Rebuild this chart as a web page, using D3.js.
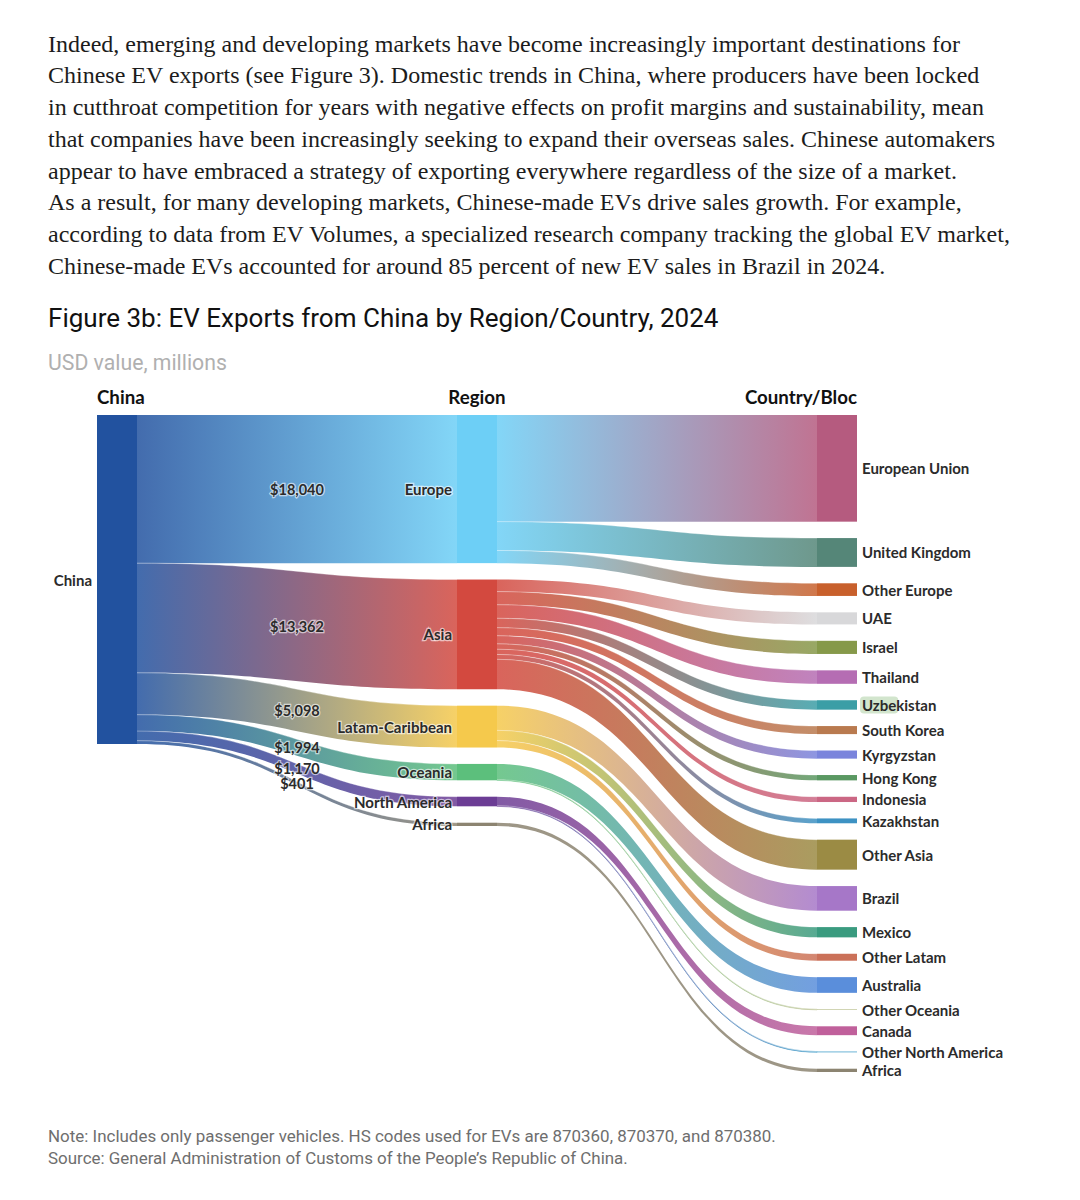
<!DOCTYPE html>
<html lang="en">
<head>
<meta charset="UTF-8">
<title>Figure 3b: EV Exports from China by Region/Country, 2024</title>
<script src="https://cdn.jsdelivr.net/npm/d3@7"></script>
<style>
  body { margin: 0; background: #fff; }
</style>
</head>
<body>
<div id="chart"></div>
<script>

// ---- data ----
const bodyLines = [
    "Indeed, emerging and developing markets have become increasingly important destinations for",
    "Chinese EV exports (see Figure 3). Domestic trends in China, where producers have been locked",
    "in cutthroat competition for years with negative effects on profit margins and sustainability, mean",
    "that companies have been increasingly seeking to expand their overseas sales. Chinese automakers",
    "appear to have embraced a strategy of exporting everywhere regardless of the size of a market.",
    "As a result, for many developing markets, Chinese-made EVs drive sales growth. For example,",
    "according to data from EV Volumes, a specialized research company tracking the global EV market,",
    "Chinese-made EVs accounted for around 85 percent of new EV sales in Brazil in 2024."
];

const columnTitles = ["China", "Region", "Country/Bloc"];

const sourceName = "China";
const sourceColor = "#22529f";

const regions = ["Europe", "Asia", "Latam-Caribbean", "Oceania", "North America", "Africa"];
const regionValues = [18040, 13362, 5098, 1994, 1170, 401];
const regionColors = ["#6dcff6", "#d3493f", "#f5c94c", "#5cbf7c", "#6c3d95", "#8c8471"];

const countries = [
    "European Union", "United Kingdom", "Other Europe",
    "UAE", "Israel", "Thailand", "Uzbekistan", "South Korea", "Kyrgyzstan",
    "Hong Kong", "Indonesia", "Kazakhstan", "Other Asia",
    "Brazil", "Mexico", "Other Latam",
    "Australia", "Other Oceania",
    "Canada", "Other North America",
    "Africa"
];
const countryRegion = [0, 0, 0, 1, 1, 1, 1, 1, 1, 1, 1, 1, 1, 2, 2, 2, 3, 3, 4, 4, 5];
const countryValues = [
    12990, 3510, 1540,
    1470, 1600, 1640, 1150, 980, 990, 650, 640, 590, 3652,
    3000, 1250, 848,
    1914, 80,
    1080, 90,
    401
];
const countryColors = [
    "#b55b7f", "#558678", "#c8602c",
    "#d8d8da", "#86994a", "#b56db3", "#3b9ea6", "#b97a4f", "#7a84dc",
    "#5a9862", "#cb6784", "#3d92c3", "#9b8b44",
    "#a677c8", "#3a9b7f", "#cb7159",
    "#5a8edb", "#b9bf8d",
    "#c0609b", "#3b9ac7",
    "#8c8471"
];

const noteLines = [
    "Note: Includes only passenger vehicles. HS codes used for EVs are 870360, 870370, and 870380.",
    "Source: General Administration of Customs of the People\u2019s Republic of China."
];

// ---- setup ----
const W = 1080, H = 1200;
const svg = d3.select("#chart").append("svg")
    .attr("width", W).attr("height", H)
    .style("display", "block");

// shrink/grow a text's font-size so it spans the given width
function fit(sel, width) {
    const w = sel.node().getComputedTextLength();
    const fs = parseFloat(sel.attr("font-size"));
    sel.attr("font-size", fs * width / w);
    return fs * width / w;
}

// body copy
const body = svg.append("g").attr("fill", "#1c1c1c")
    .attr("font-family", "'Liberation Serif', serif");
const bodyText = body.selectAll("text").data(bodyLines).join("text")
    .attr("x", 48)
    .attr("y", (d, i) => 51.7 + i * 31.7)
    .attr("font-size", 22)
    .text(d => d);
const bodySize = fit(d3.select(bodyText.nodes()[0]), 912);
bodyText.attr("font-size", bodySize);

const title = svg.append("text")
    .attr("x", 48).attr("y", 327)
    .attr("font-family", "Roboto, sans-serif")
    .attr("font-weight", 400)
    .attr("font-size", 24)
    .attr("fill", "#111")
    .text("Figure 3b: EV Exports from China by Region/Country, 2024");
fit(title, 671);

const subtitle = svg.append("text")
    .attr("x", 48).attr("y", 370)
    .attr("font-family", "Roboto, sans-serif")
    .attr("font-size", 19)
    .attr("fill", "#b0b0b0")
    .text("USD value, millions");
fit(subtitle, 179);

// ---- sankey layout (hand rolled) ----
const nodeW = 40, chartTop = 415, pad = 16.4;
const x = d3.scaleLinear().domain([0, 2]).range([97, 817]);
const total = d3.sum(regionValues);
const k = d3.scaleLinear().domain([0, total]).range([0, 329]);

const china = { name: sourceName, color: sourceColor, x0: x(0), y0: chartTop, y1: chartTop + k(total) };

let yy = chartTop;
const regionNodes = regions.map((r, i) => {
    const n = { name: r, color: regionColors[i], x0: x(1), y0: yy, y1: yy + k(regionValues[i]) };
    yy = n.y1 + pad;
    return n;
});

yy = chartTop;
const countryNodes = countries.map((c, i) => {
    const n = { name: c, color: countryColors[i], x0: x(2), y0: yy, y1: yy + k(countryValues[i]) };
    yy = n.y1 + pad;
    return n;
});

const links = [];
let sy = china.y0;
regionNodes.forEach((r, i) => {
    const h = k(regionValues[i]);
    links.push({ s: china, t: r, value: regionValues[i], sy0: sy, sy1: sy + h, ty0: r.y0, ty1: r.y1, labelled: true });
    sy += h;
});
const regionOffset = regionNodes.map(r => r.y0);
countryNodes.forEach((c, i) => {
    const ri = countryRegion[i];
    const h = k(countryValues[i]);
    const r = regionNodes[ri];
    links.push({ s: r, t: c, value: countryValues[i], sy0: regionOffset[ri], sy1: regionOffset[ri] + h, ty0: c.y0, ty1: c.y1 });
    regionOffset[ri] += h;
});

function band(l) {
    const x0 = l.s.x0 + nodeW, x1 = l.t.x0, xm = (x0 + x1) / 2;
    const p = d3.path();
    p.moveTo(x0, l.sy0);
    p.bezierCurveTo(xm, l.sy0, xm, l.ty0, x1, l.ty0);
    p.lineTo(x1, l.ty1);
    p.bezierCurveTo(xm, l.ty1, xm, l.sy1, x0, l.sy1);
    p.closePath();
    return p.toString();
}

const defs = svg.append("defs");
links.forEach((l, i) => {
    const g = defs.append("linearGradient")
        .attr("id", "lg" + i)
        .attr("gradientUnits", "userSpaceOnUse")
        .attr("x1", l.s.x0 + nodeW).attr("x2", l.t.x0);
    g.append("stop").attr("offset", "0%").attr("stop-color", l.s.color);
    g.append("stop").attr("offset", "100%").attr("stop-color", l.t.color);
});

svg.append("g")
    .selectAll("path").data(links).join("path")
    .attr("d", band)
    .attr("fill", (d, i) => `url(#lg${i})`)
    .attr("fill-opacity", 0.85)
    .attr("stroke", (d, i) => `url(#lg${i})`)
    .attr("stroke-opacity", 0.85)
    .attr("stroke-width", d => (d.ty1 - d.ty0) < 1.2 ? 0.6 : 0);

// white seams between neighbouring bands
svg.append("g")
    .selectAll("path").data(links.filter(l => l.sy0 > l.s.y0 + 0.5)).join("path")
    .attr("d", l => {
        const x0 = l.s.x0 + nodeW, x1 = l.t.x0, xm = (x0 + x1) / 2;
        return `M${x0},${l.sy0}C${xm},${l.sy0} ${xm},${l.ty0} ${x1},${l.ty0}`;
    })
    .attr("fill", "none")
    .attr("stroke", "#fff")
    .attr("stroke-opacity", 0.55)
    .attr("stroke-width", 0.6);

const allNodes = [china, ...regionNodes, ...countryNodes];
svg.append("g")
    .selectAll("rect").data(allNodes).join("rect")
    .attr("x", d => d.x0)
    .attr("y", d => d.y0)
    .attr("width", nodeW)
    .attr("height", d => Math.max(0.6, d.y1 - d.y0))
    .attr("fill", d => d.color);

// ---- labels ----
const labelFont = "Lato, 'Noto Sans', sans-serif";

const heads = svg.append("g")
    .attr("font-family", labelFont)
    .attr("font-weight", 700)
    .attr("font-size", 18.7)
    .attr("fill", "#111");
heads.append("text").attr("x", x(0)).attr("y", 404).text(columnTitles[0]);
heads.append("text").attr("x", x(1) + nodeW / 2).attr("y", 404).attr("text-anchor", "middle").text(columnTitles[1]);
heads.append("text").attr("x", x(2) + nodeW).attr("y", 404).attr("text-anchor", "end").text(columnTitles[2]);

const labels = svg.append("g")
    .attr("font-family", labelFont)
    .attr("font-weight", 700)
    .attr("font-size", 15)
    .attr("fill", "#2b2b2b")
    .attr("dominant-baseline", "central");

labels.append("text")
    .attr("x", china.x0 - 5)
    .attr("y", (china.y0 + china.y1) / 2)
    .attr("text-anchor", "end")
    .text(china.name);

labels.selectAll(".region").data(regionNodes).join("text")
    .attr("class", "region")
    .attr("x", d => d.x0 - 5)
    .attr("y", d => (d.y0 + d.y1) / 2)
    .attr("text-anchor", "end")
    .attr("stroke", "#fff").attr("stroke-width", 2.5).attr("stroke-opacity", 0.6)
    .attr("paint-order", "stroke")
    .text(d => d.name);

const countryLabels = labels.selectAll(".country").data(countryNodes).join("text")
    .attr("class", "country")
    .attr("x", d => d.x0 + nodeW + 5)
    .attr("y", d => (d.y0 + d.y1) / 2)
    .text(d => d.name);

// selection highlight on "Uzbe" as in the reference
const uz = countryLabels.filter(d => d.name === "Uzbekistan");
const uzW = uz.node().getSubStringLength(0, 4);
const uzD = uz.datum();
labels.insert("rect", ".country")
    .attr("x", uzD.x0 + nodeW + 3)
    .attr("y", (uzD.y0 + uzD.y1) / 2 - 8.5)
    .attr("width", uzW + 4)
    .attr("height", 17)
    .attr("rx", 4)
    .attr("fill", "#d2e5cd");

labels.selectAll(".value").data(links.filter(l => l.labelled)).join("text")
    .attr("class", "value")
    .attr("x", (x(0) + nodeW + x(1)) / 2)
    .attr("y", d => ((d.sy0 + d.sy1) / 2 + (d.ty0 + d.ty1) / 2) / 2)
    .attr("text-anchor", "middle")
    .attr("font-size", 14.5)
    .attr("stroke", "#fff").attr("stroke-width", 2.5).attr("stroke-opacity", 0.6)
    .attr("paint-order", "stroke")
    .text(d => "$" + d3.format(",")(d.value));

// ---- notes ----
const notes = svg.append("g")
    .attr("font-family", "Roboto, sans-serif")
    .attr("fill", "#6e6e6e");
const noteText = notes.selectAll("text").data(noteLines).join("text")
    .attr("x", 48)
    .attr("y", (d, i) => 1142 + i * 21.7)
    .attr("font-size", 14)
    .text(d => d);
const noteSize = fit(d3.select(noteText.nodes()[0]), 728);
noteText.attr("font-size", noteSize);

</script>
</body>
</html>
